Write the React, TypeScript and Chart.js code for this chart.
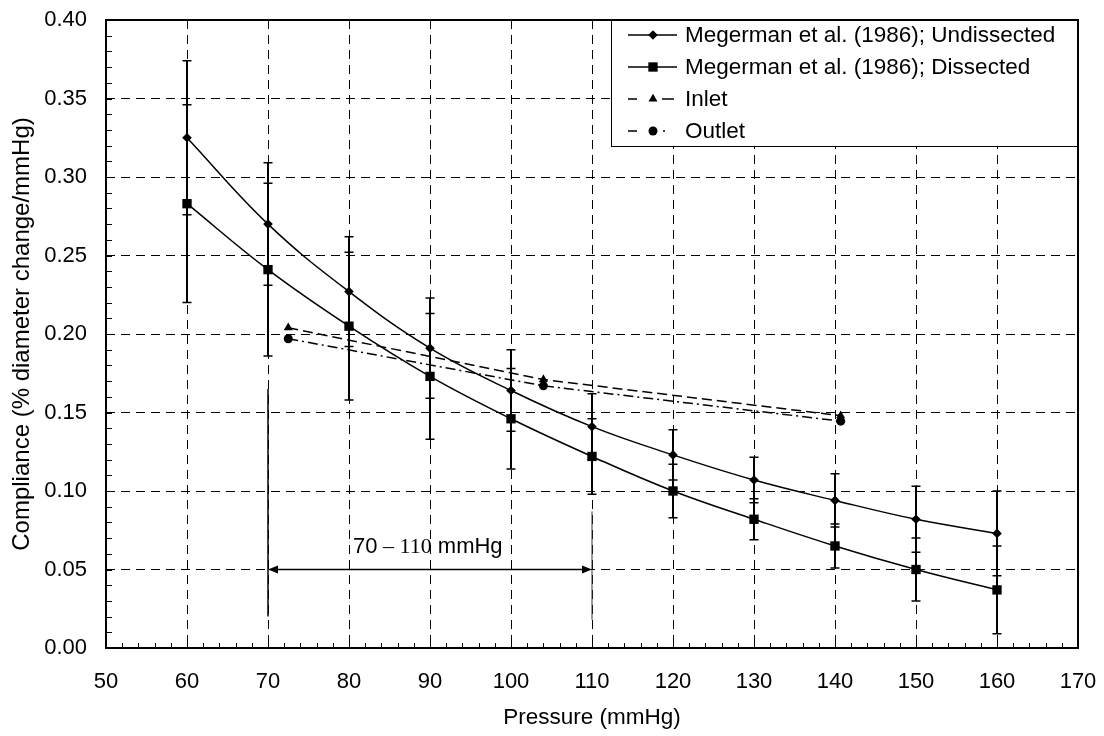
import React, { useEffect, useRef } from 'react';
import { Chart, registerables } from 'chart.js';

Chart.register(...registerables);

const SANS = "'Liberation Sans', Arial, Helvetica, sans-serif";
const SERIF = "'Liberation Serif', 'Times New Roman', serif";

// ---- data ----
const pressure = [60, 70, 80, 90, 100, 110, 120, 130, 140, 150, 160];
const undissected = [0.325, 0.270, 0.227, 0.191, 0.164, 0.141, 0.123, 0.107, 0.094, 0.082, 0.073];
const undissectedErr = [0.049, 0.039, 0.035, 0.032, 0.026, 0.021, 0.016, 0.0145, 0.017, 0.021, 0.027];
const dissected = [0.283, 0.241, 0.205, 0.173, 0.146, 0.122, 0.100, 0.082, 0.065, 0.050, 0.037];
const dissectedErr = [0.063, 0.055, 0.047, 0.040, 0.032, 0.024, 0.017, 0.013, 0.014, 0.020, 0.028];
const inletPressure = [72.5, 104.0, 140.7];
const inlet = [0.204, 0.171, 0.148];
const outletPressure = [72.5, 104.0, 140.7];
const outlet = [0.197, 0.167, 0.1445];

const seriesLabels = [
  'Megerman et al. (1986); Undissected',
  'Megerman et al. (1986); Dissected',
  'Inlet',
  'Outlet',
];

// axis ranges / ticks
const xMin = 50, xMax = 170, xStep = 10, xMinorStep = 2;
const yMin = 0, yMax = 0.4, yStep = 0.05, yMinorStep = 0.01;

// annotation (range 70 – 110 mmHg)
const rangeStart = 70, rangeEnd = 110;
const rangeArrowY = 0.05;
const rangeStartLine = [0.165, 0.02];
const rangeEndLine = [0.087, 0.018];
const rangeLabelX = 80.5, rangeLabelY = 0.0607;

const toPts = (xs: number[], ys: number[]) => xs.map((x, i) => ({ x, y: ys[i] }));

function drawMarker(ctx: CanvasRenderingContext2D, style: string, x: number, y: number, r: number) {
  ctx.beginPath();
  if (style === 'rectRot') {
    ctx.moveTo(x, y - r); ctx.lineTo(x + r, y); ctx.lineTo(x, y + r); ctx.lineTo(x - r, y); ctx.closePath();
  } else if (style === 'rect') {
    const s = r * Math.SQRT1_2;
    ctx.rect(x - s, y - s, 2 * s, 2 * s);
  } else if (style === 'triangle') {
    for (let k = 0; k < 3; k++) {
      const a = k * (2 * Math.PI / 3);
      const px = x + Math.sin(a) * r, py = y - Math.cos(a) * r;
      if (k === 0) ctx.moveTo(px, py); else ctx.lineTo(px, py);
    }
    ctx.closePath();
  } else {
    ctx.arc(x, y, r, 0, Math.PI * 2);
  }
  ctx.fill();
}

export default function App() {
  const ref = useRef<HTMLCanvasElement>(null);

  useEffect(() => {
    const canvas = ref.current!;
    const errSeries = [
      { values: undissected, errs: undissectedErr },
      { values: dissected, errs: dissectedErr },
    ];
    const legendDash: number[][] = [[], [], [9, 25, 12, 100], [9, 26, 2, 100]];

    const custom = {
      id: 'custom',
      beforeDatasetsDraw(chart: any) {
        const { ctx, scales } = chart;
        const xs = scales.x, ys = scales.y;
        ctx.save();
        ctx.strokeStyle = '#000';
        errSeries.forEach(s => {
          pressure.forEach((p, i) => {
            const px = xs.getPixelForValue(p);
            const t = ys.getPixelForValue(s.values[i] + s.errs[i]);
            const b = ys.getPixelForValue(s.values[i] - s.errs[i]);
            ctx.lineWidth = 2;
            ctx.beginPath(); ctx.moveTo(px, t); ctx.lineTo(px, b); ctx.stroke();
            ctx.lineWidth = 1.5;
            ctx.beginPath();
            ctx.moveTo(px - 4.5, t); ctx.lineTo(px + 4.5, t);
            ctx.moveTo(px - 4.5, b); ctx.lineTo(px + 4.5, b);
            ctx.stroke();
          });
        });
        ctx.restore();
      },
      afterDatasetsDraw(chart: any) {
        const { ctx, scales, chartArea } = chart;
        const xs = scales.x, ys = scales.y;
        const { left, right, top, bottom } = chartArea;
        ctx.save();
        ctx.strokeStyle = '#000';
        ctx.fillStyle = '#000';

        // annotation: vertical limits
        ctx.lineWidth = 1.5;
        ctx.beginPath();
        const x70 = xs.getPixelForValue(rangeStart);
        const x110 = xs.getPixelForValue(rangeEnd);
        ctx.moveTo(x70, ys.getPixelForValue(rangeStartLine[0]));
        ctx.lineTo(x70, ys.getPixelForValue(rangeStartLine[1]));
        ctx.stroke();
        ctx.lineWidth = 1;
        ctx.strokeStyle = '#333';
        ctx.beginPath();
        ctx.moveTo(x110, ys.getPixelForValue(rangeEndLine[0]));
        ctx.lineTo(x110, ys.getPixelForValue(rangeEndLine[1]));
        ctx.stroke();
        ctx.strokeStyle = '#000';

        // double arrow
        const ay = ys.getPixelForValue(rangeArrowY);
        ctx.lineWidth = 1.5;
        ctx.beginPath();
        ctx.moveTo(x70 + 8, ay); ctx.lineTo(x110 - 8, ay); ctx.stroke();
        ctx.beginPath();
        ctx.moveTo(x70, ay); ctx.lineTo(x70 + 10, ay - 4); ctx.lineTo(x70 + 10, ay + 4); ctx.closePath(); ctx.fill();
        ctx.beginPath();
        ctx.moveTo(x110, ay); ctx.lineTo(x110 - 10, ay - 4); ctx.lineTo(x110 - 10, ay + 4); ctx.closePath(); ctx.fill();

        // label with mixed fonts
        let tx = xs.getPixelForValue(rangeLabelX);
        const ty = ys.getPixelForValue(rangeLabelY);
        ctx.textBaseline = 'alphabetic';
        ctx.textAlign = 'left';
        const parts: [string, string][] = [['70', SANS], [' \u2013 110', SERIF], [' mmHg', SANS]];
        parts.forEach(([txt, fam]) => {
          ctx.font = `22px ${fam}`;
          ctx.fillText(txt, tx, ty);
          tx += ctx.measureText(txt).width;
        });

        // minor ticks (inside)
        ctx.lineWidth = 1;
        ctx.beginPath();
        for (let k = 0; k <= Math.round((xMax - xMin) / xMinorStep); k++) {
          const px = Math.round(xs.getPixelForValue(xMin + k * xMinorStep)) + 0.5;
          ctx.moveTo(px, bottom); ctx.lineTo(px, bottom - 5);
        }
        for (let k = 0; k <= Math.round((yMax - yMin) / yMinorStep); k++) {
          const py = Math.round(ys.getPixelForValue(yMin + k * yMinorStep)) + 0.5;
          ctx.moveTo(left, py); ctx.lineTo(left + 6, py);
        }
        ctx.stroke();

        // legend box
        const bw = 467, bh = 127;
        const bx = right - bw, by = top;
        ctx.fillStyle = '#fff';
        ctx.fillRect(bx, by, bw, bh);
        ctx.lineWidth = 1;
        ctx.strokeStyle = '#000';
        ctx.strokeRect(bx + 0.5, by + 0.5, bw - 1, bh - 1);

        // frame
        ctx.lineWidth = 2;
        ctx.strokeRect(left, top, right - left, bottom - top);

        chart.data.datasets.forEach((ds: any, i: number) => {
          const cy = by + 15 + i * 32;
          ctx.strokeStyle = '#000';
          ctx.fillStyle = '#000';
          ctx.lineWidth = 1.5;
          ctx.setLineDash(legendDash[i]);
          ctx.beginPath();
          ctx.moveTo(bx + 17, cy); ctx.lineTo(bx + 66, cy);
          ctx.stroke();
          ctx.setLineDash([]);
          drawMarker(ctx, ds.pointStyle, bx + 42, cy, ds.pointRadius);
          ctx.font = `22.5px ${SANS}`;
          ctx.textBaseline = 'middle';
          ctx.textAlign = 'left';
          ctx.fillText(ds.label, bx + 74, cy + 1);
        });
        ctx.restore();
      },
    };

    const chart = new Chart(canvas, {
      type: 'line',
      data: {
        datasets: [
          {
            label: seriesLabels[0], data: toPts(pressure, undissected),
            borderColor: '#000', backgroundColor: '#000', borderWidth: 1.5, tension: 0.4,
            pointStyle: 'rectRot', pointRadius: 4.8, pointBorderWidth: 0, fill: false,
          },
          {
            label: seriesLabels[1], data: toPts(pressure, dissected),
            borderColor: '#000', backgroundColor: '#000', borderWidth: 1.5, tension: 0.4,
            pointStyle: 'rect', pointRadius: 6.6, pointBorderWidth: 0, fill: false,
          },
          {
            label: seriesLabels[2], data: toPts(inletPressure, inlet),
            borderColor: '#000', backgroundColor: '#000', borderWidth: 1.5, tension: 0,
            borderDash: [10, 5], pointStyle: 'triangle', pointRadius: 5.2, pointBorderWidth: 0, fill: false,
          },
          {
            label: seriesLabels[3], data: toPts(outletPressure, outlet),
            borderColor: '#000', backgroundColor: '#000', borderWidth: 1.5, tension: 0,
            borderDash: [10, 4, 2, 4], pointStyle: 'circle', pointRadius: 4.5, pointBorderWidth: 0, fill: false,
          },
        ] as any,
      },
      options: {
        responsive: false,
        animation: false,
        devicePixelRatio: 1,
        layout: { padding: { left: 0, top: 20, right: 26, bottom: 0 } },
        plugins: { legend: { display: false }, tooltip: { enabled: false } },
        scales: {
          x: {
            type: 'linear', min: xMin, max: xMax,
            afterFit: (s: any) => { s.height = 88; },
            ticks: {
              stepSize: xStep, color: '#000', padding: 0, maxRotation: 0, autoSkip: false,
              font: { family: SANS, size: 22 },
            },
            grid: { color: '#000', lineWidth: 1, drawTicks: true, tickLength: 21, tickColor: 'rgba(0,0,0,0)' },
            border: { display: false, dash: [9, 6] },
            title: {
              display: true, text: 'Pressure (mmHg)', color: '#000',
              font: { family: SANS, size: 22.5 }, padding: { top: 0, bottom: 5 },
            },
          },
          y: {
            type: 'linear', min: yMin, max: yMax,
            afterFit: (s: any) => { s.width = 106; },
            ticks: {
              stepSize: yStep, color: '#000', padding: 0,
              font: { family: SANS, size: 22 },
              callback: (v: any) => Number(v).toFixed(2),
            },
            grid: { color: '#000', lineWidth: 1, drawTicks: true, tickLength: 19, tickColor: 'rgba(0,0,0,0)' },
            border: { display: false, dash: [9, 6] },
            title: {
              display: true, text: 'Compliance (% diameter change/mmHg)', color: '#000',
              font: { family: SANS, size: 24 }, padding: { top: 8, bottom: 0 },
            },
          },
        },
      } as any,
      plugins: [custom],
    });
    return () => chart.destroy();
  }, []);

  return (
    <div style={{ position: 'fixed', left: 0, top: 0, width: 1104, height: 736, background: '#fff' }}>
      <canvas ref={ref} width={1104} height={736} style={{ width: 1104, height: 736, display: 'block' }} />
    </div>
  );
}
